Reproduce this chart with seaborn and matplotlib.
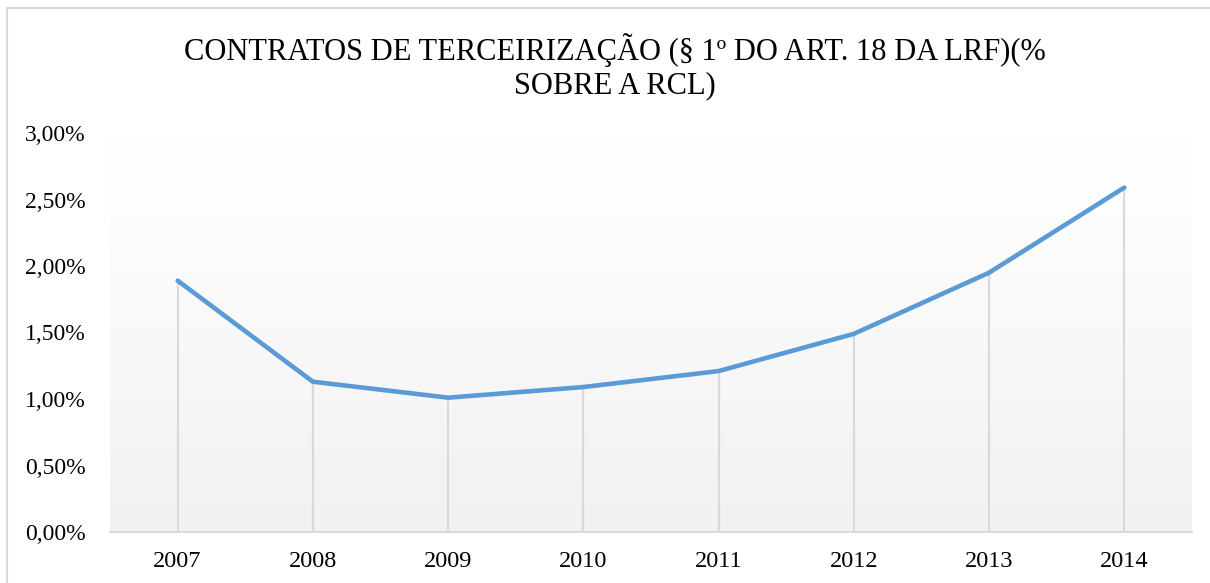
import numpy as np
import pandas as pd
import matplotlib
matplotlib.use("Agg")
import matplotlib.pyplot as plt
from matplotlib.patches import Rectangle
from matplotlib.colors import LinearSegmentedColormap
import seaborn as sns

# Outsourcing contracts as a share of net current revenue (RCL), in %
years = ["2007", "2008", "2009", "2010", "2011", "2012", "2013", "2014"]
values = [1.89, 1.13, 1.01, 1.09, 1.21, 1.49, 1.95, 2.59]
y_ticks = [0.0, 0.5, 1.0, 1.5, 2.0, 2.5, 3.0]
y_tick_labels = ["0,00%", "0,50%", "1,00%", "1,50%", "2,00%", "2,50%", "3,00%"]
title = "CONTRATOS DE TERCEIRIZAÇÃO (§ 1º DO ART. 18 DA LRF)(%\nSOBRE A RCL)"

sns.set_theme(style="white")
plt.rcParams["font.family"] = ["Liberation Serif", "DejaVu Serif"]

df = pd.DataFrame({"pos": np.arange(len(years)), "valor": values})

fig = plt.figure(figsize=(12.10, 5.83), dpi=100)
ax = fig.add_axes([110 / 1210, 1 - 532 / 583, (1192 - 110) / 1210, (532 - 133) / 583])

# Soft vertical gradient in the plot area, fading to white near the top
cmap = LinearSegmentedColormap.from_list(
    "bg", [(0.0, "#f1f1f1"), (0.85, "#fefefe"), (1.0, "#ffffff")])
grad = np.linspace(0, 1, 256).reshape(-1, 1)
ax.imshow(grad, cmap=cmap, aspect="auto", origin="lower",
          extent=(-0.5, len(years) - 0.5, 0, 3.0), zorder=0)

# Drop lines from each point down to the axis
ax.vlines(df["pos"], 0, df["valor"], color="#d9d9d9", linewidth=1.5, zorder=1)

sns.lineplot(data=df, x="pos", y="valor", ax=ax, color="#5b9bd5",
             linewidth=3.3, zorder=3, solid_capstyle="round")

ax.set_xlim(-0.5, len(years) - 0.5)
ax.set_ylim(0, 3.0)
ax.set_xticks(df["pos"])
ax.set_xticklabels(years, fontsize=17.5, color="black")
ax.set_yticks(y_ticks)
ax.set_yticklabels(y_tick_labels, fontsize=17, color="black")
ax.tick_params(axis="x", length=0, pad=14)
ax.tick_params(axis="y", length=0, pad=0)
for lbl in ax.get_yticklabels():
    lbl.set_horizontalalignment("left")
    lbl.set_x(-85 / 1082)
ax.set_xlabel("")
ax.set_ylabel("")
for side in ["left", "right", "top"]:
    ax.spines[side].set_visible(False)
ax.spines["bottom"].set_color("#d9d9d9")
ax.spines["bottom"].set_linewidth(1.5)

fig.text(615 / 1210, 1 - 67 / 583, title, ha="center", va="center", fontsize=22,
         linespacing=1.2, color="black")

# Chart frame
fig.patches.append(Rectangle((7 / 1210, -0.05), 1.1, 1 - 8 / 583 + 0.05,
                             transform=fig.transFigure, fill=False,
                             edgecolor="#d9d9d9", linewidth=1.5))

fig.savefig("out.png", dpi=100, facecolor="white")
